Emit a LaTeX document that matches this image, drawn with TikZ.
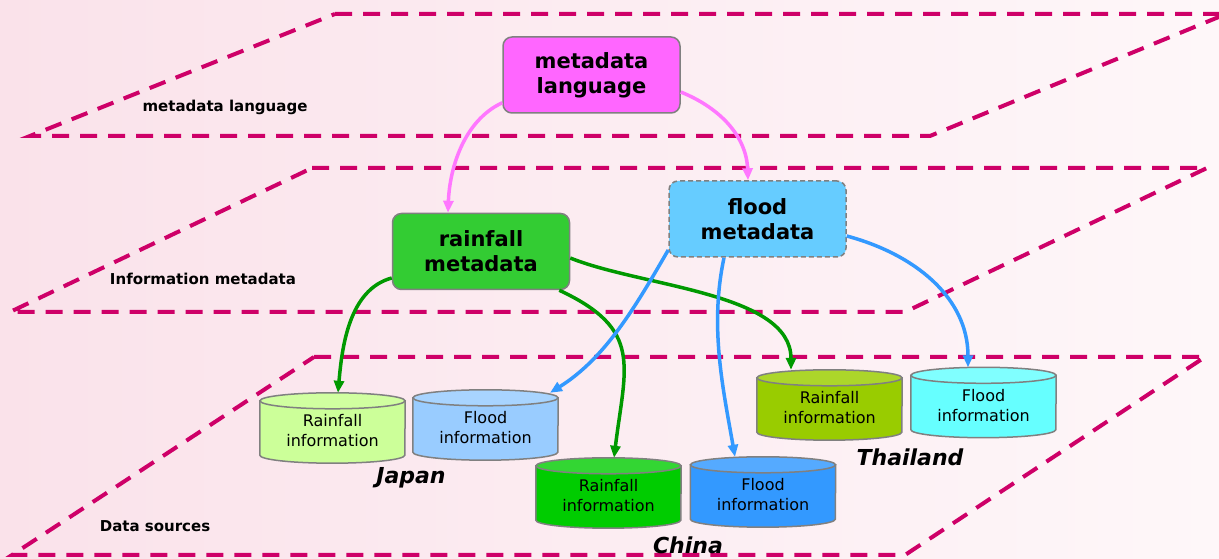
\documentclass[tikz,border=0pt]{standalone}
\usepackage{fontspec}
\setmainfont{DejaVu Sans}
\usetikzlibrary{arrows.meta}

\definecolor{bgL}{RGB}{250,226,234}
\definecolor{bgR}{RGB}{254,247,249}
\definecolor{planeline}{RGB}{206,0,104}
\definecolor{boxedge}{RGB}{128,128,128}
\definecolor{langfill}{RGB}{255,102,255}
\definecolor{rainfill}{RGB}{51,204,51}
\definecolor{floodfill}{RGB}{102,204,255}
\definecolor{pinkarr}{RGB}{255,119,255}
\definecolor{greenarr}{RGB}{0,153,0}
\definecolor{bluearr}{RGB}{51,153,255}
\definecolor{jrBody}{RGB}{204,255,153}
\definecolor{jrTop}{RGB}{208,255,160}
\definecolor{jfBody}{RGB}{153,204,255}
\definecolor{jfTop}{RGB}{168,212,255}
\definecolor{crBody}{RGB}{0,204,0}
\definecolor{crTop}{RGB}{51,214,51}
\definecolor{cfBody}{RGB}{51,153,255}
\definecolor{cfTop}{RGB}{85,170,255}
\definecolor{trBody}{RGB}{153,204,0}
\definecolor{trTop}{RGB}{172,214,42}
\definecolor{tfBody}{RGB}{102,255,255}
\definecolor{tfTop}{RGB}{128,255,255}

\tikzset{
  plane/.style={draw=planeline, line width=4pt, dash pattern=on 17pt off 11pt},
  metabox/.style={rounded corners=9pt, draw=boxedge, line width=1.5pt,
    minimum width=177pt, minimum height=76pt, inner sep=0pt, align=center,
    font=\fontsize{21}{25}\selectfont\bfseries},
  cylslot/.style={minimum width=145pt, minimum height=70pt, inner sep=0pt},
  cyltext/.style={inner sep=0pt, align=center, font=\fontsize{16}{20}\selectfont},
  cyledge/.style={draw=boxedge, line width=1.5pt},
  layername/.style={inner sep=0pt, font=\fontsize{15}{18}\selectfont\bfseries},
  country/.style={inner sep=0pt, font=\fontsize{22}{26}\selectfont\bfseries\itshape},
  link/.style={line width=3.5pt, -{Triangle[length=12pt,width=10pt]}},
}

% storage drum drawn around a named slot node
\newcommand\drum[3]{%
  \draw[cyledge, fill=#2] ([yshift=-8pt]#1.north west) -- ([yshift=8pt]#1.south west)
    arc[start angle=180, end angle=360, x radius=72.5pt, y radius=8pt]
    -- ([yshift=-8pt]#1.north east) -- cycle;
  \draw[cyledge, fill=#3] ([yshift=-8pt]#1.north) ellipse [x radius=72.5pt, y radius=8pt];
}

\begin{document}
\begin{tikzpicture}[x=1pt,y=1pt]
\useasboundingbox (0,0) rectangle (1219,559);
\clip (0,0) rectangle (1219,559);
\shade[left color=bgL, right color=bgR] (0,0) rectangle (1219,559);

% the three layers
\draw[plane] (335,545) -- (1226,545) -- (930,423) -- (30,423) -- cycle;
\draw[plane] (312,391) -- (1207,391) -- (905,247) -- (10,247) -- cycle;
\draw[plane] (314,202) -- (1205,202) -- (905,4) -- (12,4) -- cycle;

% layer names
\node[layername] (l1) at (225,452) {metadata language};
\node[layername] (l2) at (203,280) {Information metadata};
\node[layername] (l3) at (155,33) {Data sources};

% metadata boxes
\node[metabox, fill=langfill] (ml) at (591.5,484) {metadata\\language};
\node[metabox, fill=rainfill] (rm) at (481,307.5) {rainfall\\metadata};
\node[metabox, fill=floodfill, dash pattern=on 5pt off 3pt] (fm) at (757.5,340) {flood\\metadata};

% data sources
\node[cylslot] (jr) at (332.5,131) {};
\node[cylslot] (jf) at (485.5,134) {};
\node[cylslot] (cr) at (608.5,66) {};
\node[cylslot] (cf) at (763,67) {};
\node[cylslot] (tr) at (829.5,154) {};
\node[cylslot] (tf) at (983.5,156.5) {};
\drum{jr}{jrBody}{jrTop}
\drum{jf}{jfBody}{jfTop}
\drum{cr}{crBody}{crTop}
\drum{cf}{cfBody}{cfTop}
\drum{tr}{trBody}{trTop}
\drum{tf}{tfBody}{tfTop}
\node[cyltext] (jrt) at ([yshift=-3pt]jr.center) {Rainfall\\information};
\node[cyltext] (jft) at ([yshift=-3pt]jf.center) {Flood\\information};
\node[cyltext] (crt) at ([yshift=-3pt]cr.center) {Rainfall\\information};
\node[cyltext] (cft) at ([yshift=-3pt]cf.center) {Flood\\information};
\node[cyltext] (trt) at ([yshift=-3pt]tr.center) {Rainfall\\information};
\node[cyltext] (tft) at ([yshift=-3pt]tf.center) {Flood\\information};

% countries
\node[country] (jp) at (411,81) {Japan};
\node[country] (cn) at (688,14) {China};
\node[country] (th) at (910,102) {Thailand};

% links
\draw[link, pinkarr] ([yshift=11pt]ml.south west) to[out=205, in=88, looseness=0.9] ([xshift=-33pt]rm.north);
\draw[link, pinkarr] ([yshift=-17pt]ml.east) to[out=-22, in=92, looseness=1.0] ([xshift=-9.5pt]fm.north);

\draw[link, greenarr] ([yshift=-26.5pt]rm.west) to[out=195, in=85, looseness=0.9] ([xshift=5.5pt]jr.north);
\draw[link, greenarr] ([xshift=-11pt]rm.south east) to[out=-25, in=83, looseness=1.35] ([xshift=5.5pt]cr.north);
\draw[link, greenarr] ([yshift=-6.5pt]rm.east) to[out=-22, in=90, looseness=0.8] ([xshift=-38.5pt]tr.north);

\draw[link, bluearr] ([yshift=-31pt]fm.west) to[out=240, in=32, looseness=0.9] ([xshift=64.5pt, yshift=-3pt]jf.north);
\draw[link, bluearr] ([xshift=-33.5pt]fm.south) to[out=258, in=100, looseness=0.9] ([xshift=-28pt]cf.north);
\draw[link, bluearr] ([yshift=-17pt]fm.east) to[out=-15, in=90, looseness=1.0] ([xshift=-15.5pt]tf.north);
\end{tikzpicture}
\end{document}
